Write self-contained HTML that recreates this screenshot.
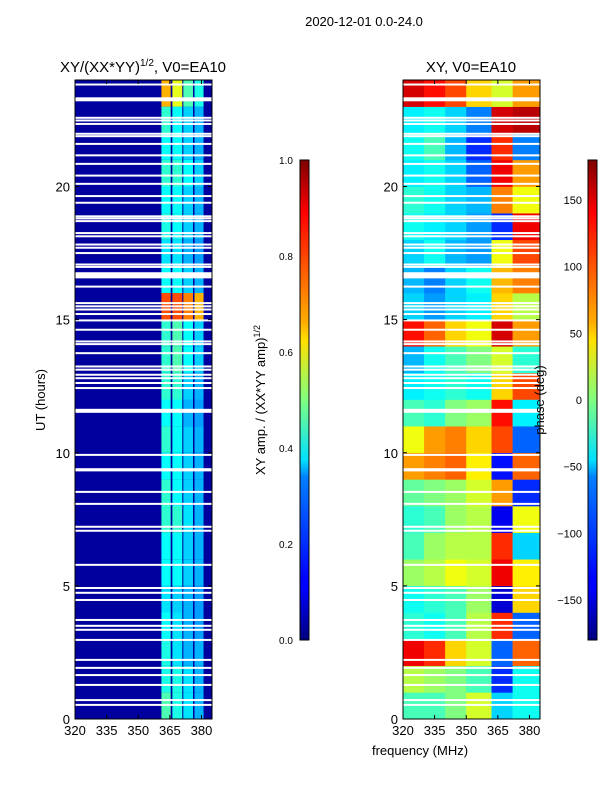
<!DOCTYPE html>
<html><head><meta charset="utf-8"><style>
body{margin:0;background:#fff;font-family:"Liberation Sans",sans-serif;}
svg text{font-family:"Liberation Sans",sans-serif;fill:#000}
</style></head><body>
<svg id="chart" width="600" height="800" xmlns="http://www.w3.org/2000/svg">
<defs>
<linearGradient id="jet" x1="0" y1="1" x2="0" y2="0">
<stop offset="0" stop-color="#00007f"/><stop offset="0.11" stop-color="#0000ff"/><stop offset="0.125" stop-color="#0000ff"/>
<stop offset="0.34" stop-color="#0080ff"/><stop offset="0.35" stop-color="#00a0ff"/><stop offset="0.375" stop-color="#00e0ff"/><stop offset="0.5" stop-color="#7fff7f"/>
<stop offset="0.625" stop-color="#ffe000"/><stop offset="0.66" stop-color="#ffb000"/><stop offset="0.89" stop-color="#ff0000"/><stop offset="1" stop-color="#7f0000"/>
</linearGradient>
</defs>
<text x="364" y="26" font-size="13" text-anchor="middle">2020-12-01 0.0-24.0</text>
<text x="143" y="72" font-size="15" text-anchor="middle">XY/(XX*YY)<tspan font-size="10" dy="-6">1/2</tspan><tspan dy="6">, V0=EA10</tspan></text>
<text x="471" y="72" font-size="15" text-anchor="middle">XY, V0=EA10</text>
<g id="left"></g>
<g id="right"></g>
<g id="axes"></g>
<text x="420" y="755" font-size="13" text-anchor="middle">frequency (MHz)</text>
<text transform="translate(45,400) rotate(-90)" font-size="13" text-anchor="middle">UT (hours)</text>
<text transform="translate(265,400) rotate(-90)" font-size="13" text-anchor="middle">XY amp. / (XX*YY amp)<tspan font-size="9" dy="-5">1/2</tspan></text>
<text transform="translate(544,400) rotate(-90)" font-size="13" text-anchor="middle">phase (deg)</text>
<rect x="300" y="160" width="9" height="480" fill="url(#jet)" stroke="#000" stroke-width="1"/>
<rect x="588" y="160" width="9" height="480" fill="url(#jet)" stroke="#000" stroke-width="1"/>
</svg>
<script>
const hours=[0,1,2,3,4,5,6,7,8,9,10,11,12,13,14,15,16,17,18,19,20,21,22,23];
const ampBands=[[361,365.4],[366.2,370.9],[371.4,376],[376.7,381]];
const ampBackground=0.03;
const ampValues=[[0.45,0.4,0.35,0.3],[0.4,0.4,0.35,0.3],[0.4,0.35,0.3,0.3],[0.38,0.35,0.3,0.28],[0.35,0.33,0.3,0.28],[0.38,0.38,0.33,0.3],[0.38,0.38,0.33,0.3],[0.42,0.42,0.35,0.3],[0.42,0.38,0.33,0.3],[0.38,0.38,0.33,0.3],[0.42,0.38,0.33,0.3],[0.38,0.38,0.3,0.28],[0.42,0.42,0.33,0.3],[0.42,0.45,0.38,0.33],[0.42,0.45,0.38,0.33],[0.8,0.8,0.75,0.7],[0.38,0.38,0.33,0.3],[0.35,0.35,0.3,0.28],[0.4,0.38,0.33,0.3],[0.38,0.38,0.33,0.3],[0.42,0.42,0.38,0.33],[0.38,0.38,0.33,0.3],[0.42,0.38,0.33,0.3],[0.7,0.6,0.45,0.4]];
const phaseEdges=[320,330,340,350,362,372,385];
const phaseValues=[[-20,-20,0,30,-60,-40],[20,10,0,-20,-120,-40],[140,120,60,30,-100,100],[-30,-40,-20,20,120,-100],[-40,-30,-20,10,-150,60],[10,20,40,30,140,50],[-20,10,20,20,120,-60],[-30,-20,10,20,-140,40],[-10,0,10,30,80,-120],[80,90,100,50,-130,100],[40,80,90,60,110,-100],[-20,-30,0,10,130,-50],[-50,-40,-30,-40,60,110],[-70,-40,-20,0,30,-30],[130,100,60,40,150,80],[-60,-80,-60,-50,60,20],[-70,-90,-60,-40,70,90],[-60,-40,-70,-80,40,110],[-40,-50,-60,-80,-120,140],[-30,-40,-60,-70,90,40],[-50,-40,-60,-100,140,80],[-40,-20,-70,-120,120,-90],[-50,-40,-60,-90,150,160],[150,130,110,60,30,80]];
const gapHours=[23.83,22.58,22.48,22.35,21.98,21.89,21.6,21.17,20.85,20.41,20.1,19.64,19.39,18.88,18.8,18.7,18.25,18.13,17.82,17.7,17.5,17.07,16.98,16.24,15.62,15.5,15.38,15.21,14.97,14.62,14.18,14.08,13.74,13.24,13.12,12.93,12.8,12.62,12.43,9.92,8.53,8.08,7.22,7.07,5.79,4.92,4.74,4.47,3.72,3.5,3.35,2.97,2.22,1.92,1.65,1.28,0.71,0.53];
const thickGaps=[[23.2,23.35],[16.55,16.78],[11.5,11.65],[9.3,9.42]];
const yTicks=[0,5,10,15,20];
const xTicks=[320,335,350,365,380];
const ampTicks=[0.0,0.2,0.4,0.6,0.8,1.0];
const phaseTicks=[-150,-100,-50,0,50,100,150];

const NS="http://www.w3.org/2000/svg";
const Y0=719,Y1=80;
const yS=h=>Y0-(h/24)*(Y0-Y1);
const xL=f=>75+(f-320)*(137/65);
const xR=f=>403+(f-320)*(137/65);
function jet(v){v=Math.max(0,Math.min(1,v));
 const c=x=>Math.round(255*Math.max(0,Math.min(1,x)));
 return `rgb(${c(1.5-Math.abs(4*v-3))},${c(1.5-Math.abs(4*v-2))},${c(1.5-Math.abs(4*v-1))})`;}
function mk(tag,attrs,parent){const e=document.createElementNS(NS,tag);for(const k in attrs)e.setAttribute(k,attrs[k]);parent.appendChild(e);return e;}
const L=document.getElementById('left'),R=document.getElementById('right'),A=document.getElementById('axes');
let r=mk('rect',{x:75,y:Y1,width:137,height:Y0-Y1,fill:jet(ampBackground)},L);


hours.forEach((h,i)=>{
 ampBands.forEach((b,j)=>{
  const c=mk('rect',{x:xL(b[0]),y:yS(h+1),width:xL(b[1])-xL(b[0]),height:yS(h)-yS(h+1),fill:jet(ampValues[i][j])},L);
  
  
 });
 for(let j=0;j<phaseEdges.length-1;j++){
  const c=mk('rect',{x:xR(phaseEdges[j]),y:yS(h+1),width:xR(phaseEdges[j+1])-xR(phaseEdges[j])+0.3,height:yS(h)-yS(h+1)+0.3,fill:jet((phaseValues[i][j]+180)/360)},R);
  
  
 }
});
[[75,L],[403,R]].forEach(([x0,g])=>{
 gapHours.forEach(h=>{const e=mk('rect',{x:x0,y:yS(h)-1,width:137,height:2,fill:'#fff'},g);
  
  });
 thickGaps.forEach(t=>{const e=mk('rect',{x:x0,y:yS(t[1]),width:137,height:yS(t[0])-yS(t[1]),fill:'#fff'},g);
  
  });
});
[[75,xL],[403,xR]].forEach(([x0,xs],pi)=>{
 const f=mk('rect',{x:x0,y:Y1,width:137,height:Y0-Y1,fill:'none',stroke:'#000','stroke-width':1},A);
 
 
 yTicks.forEach(t=>{const y=yS(t);
  mk('line',{x1:x0,x2:x0+4,y1:y,y2:y,stroke:'#000'},A);
  mk('line',{x1:x0+137,x2:x0+133,y1:y,y2:y,stroke:'#000'},A);
  const tx=mk('text',{x:x0-5,y:y+5,'font-size':13,'text-anchor':'end'},A);tx.textContent=t;
  
  });
 xTicks.forEach(t=>{const x=xs(t);
  mk('line',{x1:x,x2:x,y1:Y0,y2:Y0-4,stroke:'#000'},A);
  mk('line',{x1:x,x2:x,y1:Y1,y2:Y1+4,stroke:'#000'},A);
  const tx=mk('text',{x:x,y:Y0+16,'font-size':13,'text-anchor':'middle'},A);tx.textContent=t;
  
  });
});
ampTicks.forEach(t=>{const y=640-t*480;
 mk('line',{x1:300,x2:303,y1:y,y2:y,stroke:'#000'},A);mk('line',{x1:309,x2:306,y1:y,y2:y,stroke:'#000'},A);
 const tx=mk('text',{x:286,y:y+4,'font-size':10,'text-anchor':'middle'},A);tx.textContent=t.toFixed(1);
 
 });
phaseTicks.forEach(t=>{const y=640-(t+180)/360*480;
 mk('line',{x1:588,x2:591,y1:y,y2:y,stroke:'#000'},A);mk('line',{x1:597,x2:594,y1:y,y2:y,stroke:'#000'},A);
 const tx=mk('text',{x:582,y:y+4,'font-size':11,'text-anchor':'end'},A);tx.textContent=t<0?'\u2212'+(-t):t;
 
 });
</script>
</body></html>
